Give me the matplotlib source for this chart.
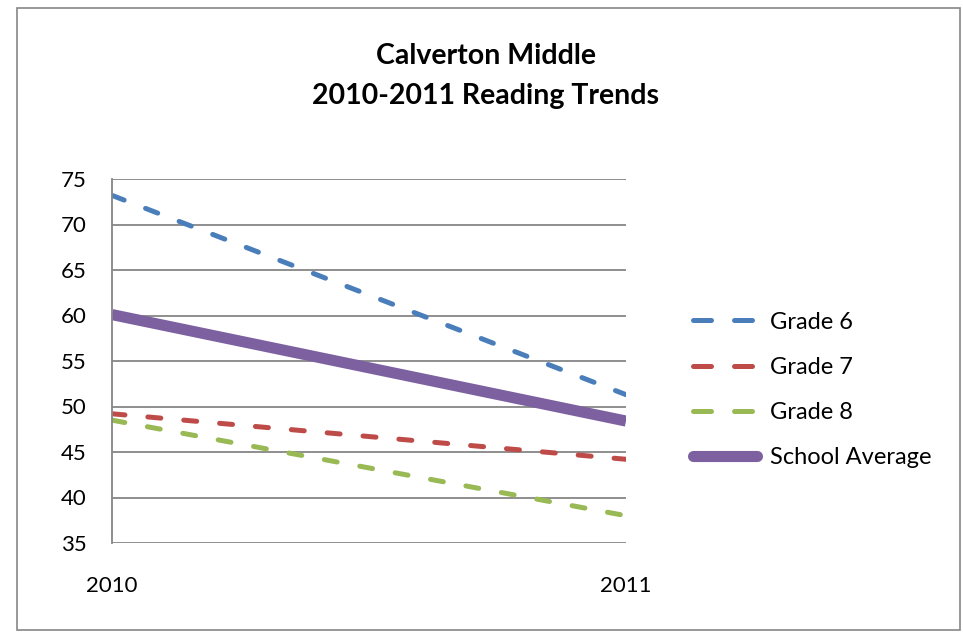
import matplotlib
matplotlib.use("Agg")
import matplotlib.pyplot as plt
from matplotlib.patches import Rectangle

plt.rcParams['font.family'] = ['Lato', 'DejaVu Sans']

years = ["2010", "2011"]
grade6 = [73.2, 51.3]
grade7 = [49.2, 44.2]
grade8 = [48.5, 38.0]
school_avg = [60.1, 48.4]
yticks = [35, 40, 45, 50, 55, 60, 65, 70, 75]

grid_col = "#868686"

fig = plt.figure(figsize=(9.63, 6.32), dpi=100)
ax = fig.add_axes([112/963, 1 - 543/632, (626 - 112)/963, (543 - 179)/632])

x = range(len(years))
dash = (2.6, 4.6)
ax.plot(x, grade6, color="#4A7EBB", lw=3.6, dashes=dash, dash_capstyle="round", label="Grade 6")
ax.plot(x, grade7, color="#BE4B48", lw=3.6, dashes=dash, dash_capstyle="round", label="Grade 7")
ax.plot(x, grade8, color="#98B954", lw=3.6, dashes=dash, dash_capstyle="round", label="Grade 8")
ax.plot(x, school_avg, color="#7D60A0", lw=8, solid_capstyle="butt", label="School Average")

ax.set_xlim(0, 1)
ax.set_ylim(35, 75)
ax.set_yticks(yticks)
ax.set_xticks(list(x))
ax.set_xticklabels(years)
ax.yaxis.grid(True, color=grid_col, lw=1.3)
ax.set_axisbelow(True)
for s in ["top", "right", "bottom"]:
    ax.spines[s].set_visible(False)
ax.spines["left"].set_color(grid_col)
ax.spines["left"].set_linewidth(1.3)
ax.tick_params(axis="both", length=0, labelsize=16)
ax.tick_params(axis="y", pad=18.5)
ax.tick_params(axis="x", pad=24)

fig.text(486/963, 1 - 56/632, "Calverton Middle", ha="center", va="center",
         fontsize=20.5, fontweight="bold")
fig.text(486/963, 1 - 96/632, "2010-2011 Reading Trends", ha="center", va="center",
         fontsize=20.5, fontweight="bold")

leg = ax.legend(loc="center left", bbox_to_anchor=(693/963, 1 - 390/632),
                bbox_transform=fig.transFigure, frameon=False, fontsize=17,
                handlelength=2.71, handletextpad=0.55, labelspacing=1.03,
                borderaxespad=0, borderpad=0)
for line in leg.get_lines():
    if line.get_linestyle() == "--":
        line.set_dashes((3.6, 4.6))
    line.set_solid_capstyle("round")

fig.add_artist(Rectangle((17/963, 1 - 630/632), (960 - 17)/963, (630 - 8)/632,
                         transform=fig.transFigure, fill=False,
                         edgecolor=grid_col, lw=1.2))

fig.savefig("out.png", dpi=100)
